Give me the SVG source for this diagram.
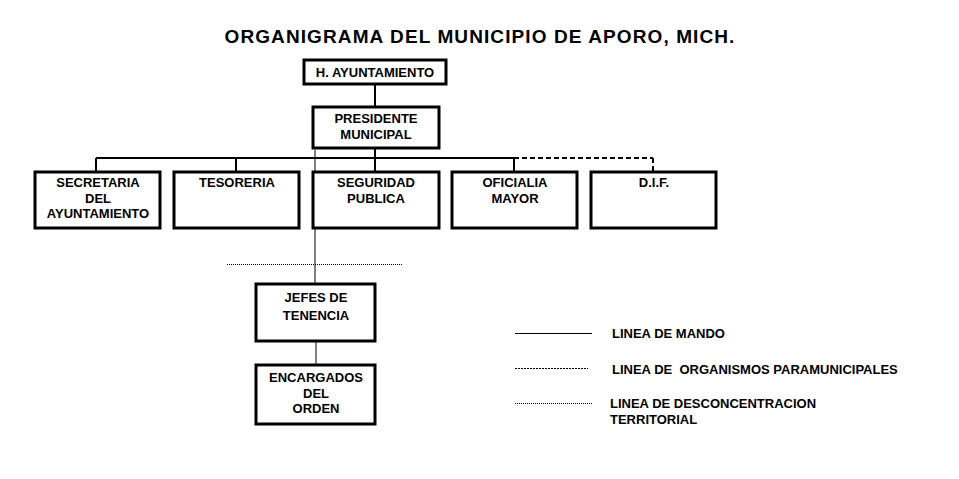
<svg xmlns="http://www.w3.org/2000/svg" width="959" height="479" viewBox="0 0 959 479">
<style>
text{font-family:"Liberation Sans",Arial,sans-serif;font-size:13px;font-weight:bold;fill:#000;text-anchor:middle;white-space:pre}
.b{fill:#fff;stroke:#000;stroke-width:3}
.l{stroke:#000;stroke-width:2;fill:none}
.t{stroke:#000;stroke-width:1;fill:none}
.lg{text-anchor:start}
</style>
<rect width="959" height="479" fill="#fff"/>
<text x="480" y="43" style="font-size:19px;letter-spacing:1.1px">ORGANIGRAMA DEL MUNICIPIO DE APORO, MICH.</text>
<g id="connectors">
<line class="l" x1="375" y1="84" x2="375" y2="107"/>
<line class="l" x1="375" y1="148" x2="375" y2="172"/>
<line class="l" x1="96" y1="158" x2="514" y2="158"/>
<line class="l" x1="514" y1="158" x2="653" y2="158" stroke-dasharray="5,3"/>
<line class="l" x1="653" y1="158" x2="653" y2="172" stroke-dasharray="5,3"/>
<line class="l" x1="96" y1="158" x2="96" y2="172"/>
<line class="l" x1="236" y1="158" x2="236" y2="172"/>
<line class="l" x1="514" y1="158" x2="514" y2="172"/>
<line class="t" x1="315" y1="150" x2="315" y2="284"/>
<line class="t" x1="227" y1="264.5" x2="403" y2="264.5" stroke-dasharray="1,1"/>
<line class="t" x1="316" y1="341" x2="316" y2="365"/>
<line class="t" x1="515" y1="333.5" x2="592" y2="333.5"/>
<line class="t" x1="515" y1="368.5" x2="588" y2="368.5" stroke-dasharray="2,1"/>
<line class="t" x1="515" y1="403.5" x2="592" y2="403.5" stroke-dasharray="1,1"/>
</g>
<g id="ayuntamiento"><rect class="b" x="304" y="60" width="142" height="24"/><text x="375" y="77">H. AYUNTAMIENTO</text></g>
<g id="presidente"><rect class="b" x="313" y="107" width="126" height="41"/><text x="376" y="123">PRESIDENTE</text><text x="376" y="139">MUNICIPAL</text></g>
<g id="secretaria"><rect class="b" x="35" y="172" width="125" height="56"/><text x="98" y="187">SECRETARIA</text><text x="98" y="203">DEL</text><text x="98" y="218">AYUNTAMIENTO</text></g>
<g id="tesoreria"><rect class="b" x="174" y="172" width="125" height="56"/><text x="237" y="187">TESORERIA</text></g>
<g id="seguridad"><rect class="b" x="313" y="172" width="126" height="56"/><text x="376" y="187">SEGURIDAD</text><text x="376" y="203">PUBLICA</text></g>
<g id="oficialia"><rect class="b" x="452" y="172" width="125" height="56"/><text x="515" y="187">OFICIALIA</text><text x="515" y="203">MAYOR</text></g>
<g id="dif"><rect class="b" x="591" y="172" width="125" height="56"/><text x="654" y="187">D.I.F.</text></g>
<g id="jefes"><rect class="b" x="256" y="284" width="119" height="57"/><text x="316" y="302">JEFES DE</text><text x="316" y="320">TENENCIA</text></g>
<g id="encargados"><rect class="b" x="256" y="365" width="119" height="59"/><text x="316" y="382">ENCARGADOS</text><text x="316" y="398">DEL</text><text x="316" y="413">ORDEN</text></g>
<g id="legend">
<text class="lg" x="612" y="338">LINEA DE MANDO</text>
<text class="lg" x="612" y="374">LINEA DE  ORGANISMOS PARAMUNICIPALES</text>
<text class="lg" x="610" y="408">LINEA DE DESCONCENTRACION</text>
<text class="lg" x="610" y="424">TERRITORIAL</text>
</g>
</svg>
